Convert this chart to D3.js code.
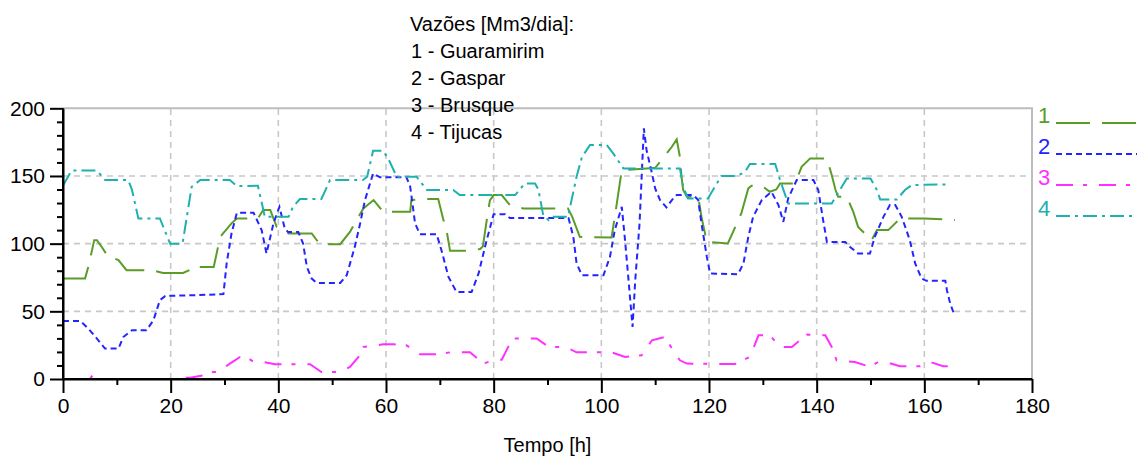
<!DOCTYPE html>
<html><head><meta charset="utf-8">
<script src="https://cdn.jsdelivr.net/npm/d3@7"></script>
<style>
body{margin:0;background:#fff}
svg{display:block}
text{font-family:"Liberation Sans",Arial,sans-serif;fill:#000}
</style>
</head><body>
<svg id="chart" width="1137" height="460"></svg>
<script>
// ---- data (hours, Mm3/dia) ----
const guaramirim = [[0,74.2],[4.1,74.2],[4.7,82.8],[5.8,102.6],[6.3,102.6],[7.3,97],[8.4,90.2],[9,90],[10.3,87.8],[11.8,80.4],[16.5,80.4],[18.6,78.4],[22.3,78.4],[23.5,80.5],[23.9,82.8],[28,82.8],[29.2,105],[31.3,115],[32.3,118.6],[36.2,118.6],[37.2,124.8],[38.5,124.8],[39.7,112.4],[41.9,107.5],[46.2,107.5],[47.7,99.6],[51.5,99.6],[53.3,108.7],[55.8,126],[57.7,132.2],[59.5,123.5],[64.5,123.5],[64.7,132.2],[67.2,132.9],[69.7,132.9],[70.6,118.6],[71.3,108.7],[71.9,94.7],[74.7,94.7],[77.5,96],[78,98],[78.7,117],[79.3,132],[80,135.9],[81.5,135.9],[83,128.5],[85.5,126],[93.8,126],[94.6,119.8],[96,105],[101.9,104.6],[102.5,119.8],[103.8,154.4],[108.4,155.5],[110,156],[111.2,161.8],[113.1,171.6],[114,177],[114.6,164],[114.9,149.4],[115.2,139.6],[115.9,134.6],[118,134.6],[118.6,119.8],[119.6,101.3],[123.5,100.1],[126,122.3],[127.3,140.8],[127.9,142.8],[129.8,142.8],[131.3,138.3],[132.5,140],[133.2,144.5],[136,144.5],[137.2,156.8],[138.8,163],[141.9,163],[142.8,150.7],[143.5,139.6],[144,134.6],[145.6,134.6],[146.8,123.5],[147.7,112.4],[150.2,102.6],[151.2,110],[153.3,110],[155.5,118.6],[160,118.6],[165.7,117.5]];
const gaspar = [[0,42.9],[3.2,42.9],[4.7,37.3],[6.3,29.9],[7.8,22.5],[10.3,22.5],[11.2,31],[12.8,36],[15.5,36],[16.8,43.4],[18,58.2],[19,61.4],[25,62],[29.8,62.7],[30.4,85.4],[31.3,107.5],[32.3,122.8],[35.4,122.8],[36.9,110],[37.8,92.7],[39.1,115],[40.2,127.2],[41.2,111.2],[41.8,108.7],[43.7,108.7],[44.6,100.1],[45.3,82.8],[46.2,74.2],[47.1,71],[51.5,71],[52.7,76.7],[54.2,97.6],[55.2,115],[56.1,132.2],[57.6,151.9],[58.9,149],[63.8,149],[64.5,142],[65.4,115],[66.3,107],[69.4,107],[70.3,95.2],[71.6,75.4],[73.1,64.3],[75.9,64.3],[77.2,78],[78.7,102.6],[80,121.8],[82.1,121.8],[83,119],[93.9,119],[94.8,105],[95.4,85.4],[96.4,76.7],[100.4,76.7],[101.6,90.2],[102.5,110],[103.8,127.2],[104.4,102.6],[105,75.4],[105.8,38.5],[106.3,73],[107.1,115],[107.9,185.2],[108.4,169.2],[109.4,152],[110,140.8],[110.9,132.2],[112.1,126.8],[113.1,132.2],[114,135.9],[117.1,135.9],[118,132.2],[118.6,115],[119.6,90.2],[120.2,78],[125.4,77.4],[126.4,85.4],[127.3,105],[128.2,119.8],[129.8,132.2],[131.6,138.3],[132.9,128.5],[133.8,116.1],[134.7,133.4],[135.7,142],[136.3,147],[139.4,147],[140.3,139.6],[141.2,117.4],[141.9,101.3],[145.3,101.3],[146.2,97.6],[147.7,92.7],[149.9,92.7],[150.8,105],[152.4,119.8],[153.6,128.5],[154.6,128.5],[155.8,119.8],[157.3,102.6],[158.3,85.4],[159.5,74.2],[160.4,72.5],[163.9,72.5],[164.2,65.6],[164.8,55.8],[165.6,47.1]];
const brusque = [[0,0],[5,0],[5.8,4.4],[6.6,0],[22,0],[22.7,1],[23.6,1],[26.1,2.7],[27.9,5.2],[28.8,5.2],[31,11.4],[32.9,16.3],[34.1,16.3],[35.4,12.6],[37.2,12.6],[39.4,10.9],[45.9,10.9],[48,5.2],[51.5,5.2],[53.3,8.9],[54.9,16.3],[55.8,23.7],[58.3,24.9],[59.5,25.7],[61.4,25.7],[63.8,24.9],[66.3,18.3],[69.7,18.3],[71.9,19.7],[75.6,19.7],[78.1,11.4],[80.3,14.3],[81.5,14.3],[82.7,23.7],[83.7,29.9],[88,29.9],[90.2,23.7],[93.3,23.7],[95.4,19.7],[101.9,19.7],[104.4,16.3],[107.5,17.5],[109.4,28.6],[111.8,31],[113.7,18.8],[114.6,13.8],[115.9,11.4],[124.8,11],[127.6,16.3],[129.2,32.3],[131.3,32.3],[133.2,23.7],[135.4,23.7],[138.2,32.8],[141.6,32.3],[142.8,23.7],[143.7,13.8],[147.1,12.6],[149.6,9.4],[150.2,9.4],[151.4,12.6],[152.7,12.6],[155.5,9.4],[159.2,9.4],[161.1,12.6],[163.5,9.4],[164.8,9.4]];
const tijucas = [[0,143],[1.6,154],[6.3,154],[7.8,147],[12.1,147],[12.8,140],[14,118.6],[18,118.6],[19.9,100],[22.2,100],[23.9,142],[25.5,147],[31,147],[32.3,142.5],[36.2,142.8],[37.5,119.8],[41.9,119.8],[42.7,127],[44,133],[48,133],[49.6,147],[55.7,147],[56.5,149.4],[57.6,168.6],[59.5,168.6],[60.7,160.5],[62,149.4],[65.7,149.4],[67.6,139.6],[72.5,139.6],[73.7,135.9],[84,135.9],[85.8,144.5],[87.7,144.5],[88.3,140],[89.2,121],[90.2,117.4],[90.9,119.8],[93.8,119.8],[95.4,149.4],[96.4,164],[97.9,172.9],[101,172.9],[102.2,166.7],[104.1,155.6],[114.6,155.6],[115.2,142],[116.1,133.4],[119.8,133.4],[122.3,150],[125.2,150],[126.7,153],[127.6,158.8],[132.3,158.8],[133.2,147],[134.7,129.7],[142.8,129.7],[145.6,148.2],[150,148.2],[151.2,139.6],[151.8,132.7],[154.9,132.7],[156.4,139.6],[157.7,143.3],[164.8,143.8]];

const seriesNames = ["Guaramirim","Gaspar","Brusque","Tijucas"];
const seriesData = [guaramirim, gaspar, brusque, tijucas];
const seriesColors = ["#5a9c28","#2424ff","#ff30ff","#1fb0b0"];
const seriesDash = ["34,12","6,4","17,10,4,12","14,5,3,5"];
const xTicks = [0,20,40,60,80,100,120,140,160,180];
const xMinor = [10,30,50,70,90,110,130,150,170];
const yTicks = [0,50,100,150,200];
const yMinor = [10,20,30,40,60,70,80,90,110,120,130,140,160,170,180,190];
const legendTitle = "Vazões [Mm3/dia]:";
const xTitle = "Tempo [h]";

// ---- layout ----
const L = 63, R = 1032, T = 108.3, B = 379;
const svg = d3.select("#chart");
const x = d3.scaleLinear().domain([0,180]).range([L,R]);
const y = d3.scaleLinear().domain([0,200]).range([B,T]);

svg.append("rect").attr("width",1137).attr("height",460).attr("fill","#fff");

// grid
const grid = svg.append("g").attr("stroke","#c8c8c8").attr("stroke-width",1.6).attr("stroke-dasharray","6,5");
grid.selectAll(".gx").data(xTicks.filter(d=>d>0&&d<180)).join("line")
  .attr("x1",d=>x(d)).attr("x2",d=>x(d)).attr("y1",B).attr("y2",T);
grid.selectAll(".gy").data(yTicks.filter(d=>d>0&&d<200)).join("line")
  .attr("y1",d=>y(d)).attr("y2",d=>y(d)).attr("x1",L).attr("x2",R);
// frame top/right
svg.append("path").attr("d",`M${L},${y(200)}H${x(180)}V${B}`)
  .attr("fill","none").attr("stroke","#bdbdbd").attr("stroke-width",2);

// lines
svg.append("clipPath").attr("id","clip").append("rect")
  .attr("x",L).attr("y",T-10).attr("width",R-L).attr("height",B-T+9);
const line = d3.line().x(d=>x(d[0])).y(d=>y(d[1]));
const lg = svg.append("g").attr("clip-path","url(#clip)");
seriesData.forEach((s,i)=>{
  lg.append("path").attr("d",line(s)).attr("fill","none")
    .attr("stroke",seriesColors[i]).attr("stroke-width",2)
    .attr("stroke-dasharray",seriesDash[i]);
});

// axes
const fs = "21px";
const yAxis = svg.append("g").attr("transform",`translate(${L},0)`)
  .call(d3.axisLeft(y).tickValues(yTicks).tickSize(13).tickSizeOuter(0).tickPadding(5));
const yMin = svg.append("g").attr("transform",`translate(${L},0)`)
  .call(d3.axisLeft(y).tickValues(yMinor).tickSize(6).tickSizeOuter(0).tickFormat(""));
const xAxis = svg.append("g").attr("transform",`translate(0,${B})`)
  .call(d3.axisBottom(x).tickValues(xTicks).tickSize(14).tickSizeOuter(0).tickPadding(5));
const xMin = svg.append("g").attr("transform",`translate(0,${B})`)
  .call(d3.axisBottom(x).tickValues(xMinor).tickSize(6).tickSizeOuter(0).tickFormat(""));
[yAxis,yMin,xAxis,xMin].forEach(a=>{
  a.selectAll("path").attr("stroke","#000").attr("stroke-width",2);
  a.selectAll("line").attr("stroke","#000").attr("stroke-width",2);
  a.selectAll("text").attr("font-size",fs).attr("font-family","Liberation Sans, Arial, sans-serif").attr("fill","#000");
});
yAxis.select(".domain").attr("d",`M0,${B+1}V${T}`);
xAxis.select(".domain").attr("d",`M${L-1},0H${R}`);

svg.append("text").attr("x",(L+R)/2).attr("y",452).attr("text-anchor","middle")
  .attr("font-size","20px").text(xTitle);

// top legend text
const tl = svg.append("g").attr("font-size","20px");
tl.append("text").attr("x",410).attr("y",31).text(legendTitle);
seriesNames.forEach((n,i)=>{
  tl.append("text").attr("x",411).attr("y",58+i*27).text(`${i+1} - ${n}`);
});

// right legend
const rl = svg.append("g");
seriesNames.forEach((n,i)=>{
  const yy = 123 + i*31;
  rl.append("text").attr("x",1038).attr("y",yy).attr("font-size","22px")
    .style("fill",seriesColors[i]).text(i+1);
  rl.append("line").attr("x1",1056).attr("x2",1137).attr("y1",yy).attr("y2",yy)
    .attr("stroke",seriesColors[i]).attr("stroke-width",2).attr("stroke-dasharray",seriesDash[i]);
});
</script>
</body></html>
